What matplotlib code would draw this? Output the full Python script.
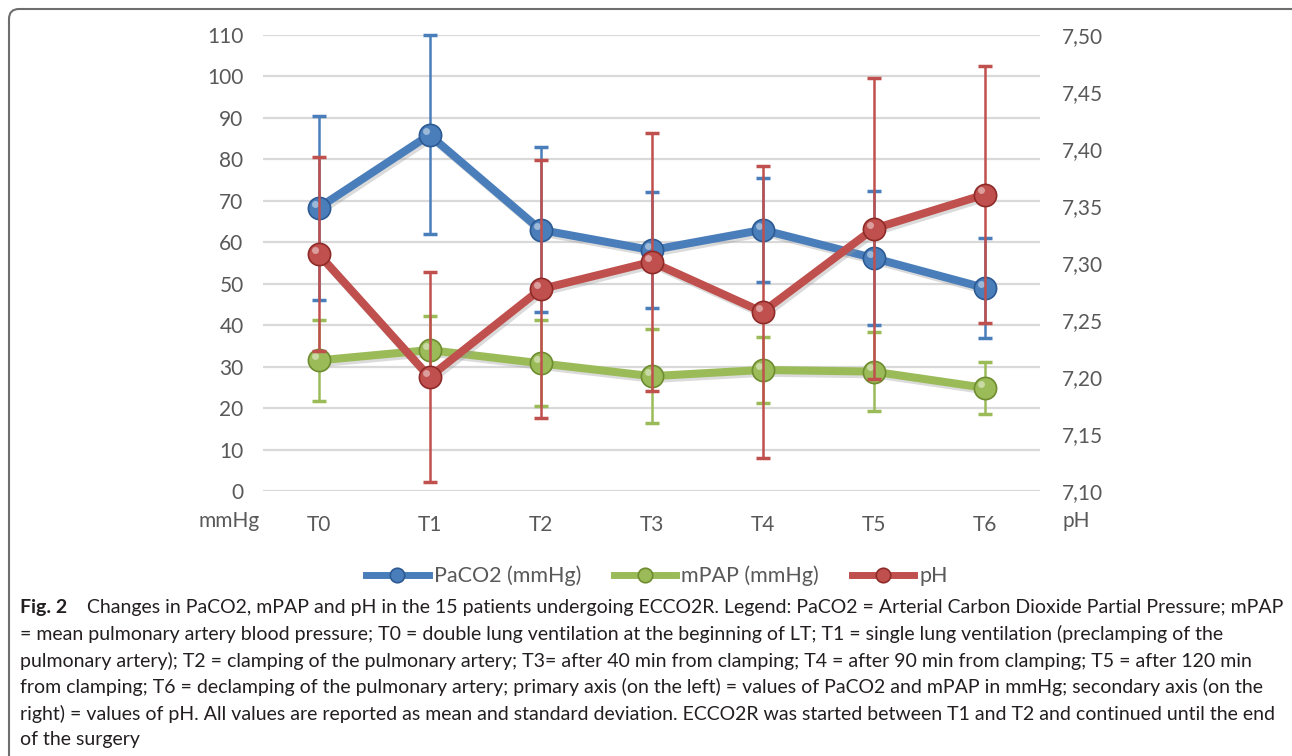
# ____________________________________________________________
# import modules

import numpy as np
import matplotlib
matplotlib.use("Agg")
import matplotlib.pyplot as plt
import matplotlib.patheffects as pe
from matplotlib.patches import FancyBboxPatch
from matplotlib.transforms import IdentityTransform, ScaledTranslation


# ____________________________________________________________
# data

times = ["T0", "T1", "T2", "T3", "T4", "T5", "T6"]
paco2 = [68.3, 85.9, 63.0, 58.1, 63.0, 56.2, 49.0]
paco2_sd = [22.2, 24.0, 19.9, 14.0, 12.6, 16.2, 12.0]
mpap = [31.5, 34.0, 30.8, 27.7, 29.2, 28.8, 24.9]
mpap_sd = [9.7, 8.1, 10.4, 11.3, 8.0, 9.6, 6.3]
ph = [7.308, 7.200, 7.277, 7.301, 7.257, 7.330, 7.360]
ph_sd = [0.085, 0.092, 0.113, 0.113, 0.128, 0.132, 0.113]

left_ticks = list(range(0, 111, 10))
right_ticks = [7.10, 7.15, 7.20, 7.25, 7.30, 7.35, 7.40, 7.45, 7.50]

caption_lines = [
    "= mean pulmonary artery blood pressure; T0 = double lung ventilation at the beginning of LT; T1 = single lung ventilation (preclamping of the",
    "pulmonary artery); T2 = clamping of the pulmonary artery; T3= after 40 min from clamping; T4 = after 90 min from clamping; T5 = after 120 min",
    "from clamping; T6 = declamping of the pulmonary artery; primary axis (on the left) = values of PaCO2 and mPAP in mmHg; secondary axis (on the",
    "right) = values of pH. All values are reported as mean and standard deviation. ECCO2R was started between T1 and T2 and continued until the end",
    "of the surgery",
]
caption_first = ("Changes in PaCO2, mPAP and pH in the 15 patients undergoing ECCO2R. Legend: PaCO2 = Arterial "
                 "Carbon Dioxide Partial Pressure; mPAP")

# ____________________________________________________________
# style

blue, green, red = "#4A7EBB", "#9BBB59", "#C0504D"
dblue, dgreen, dred = "#2C5A93", "#6E8C30", "#8E2B28"
grey = "#595959"
chart_font = ["Lato", "DejaVu Sans"]
cap_font = ["Lato", "DejaVu Sans"]
cap_size = 14

W, H = 1292, 756
fig = plt.figure(figsize=(W / 100, H / 100), dpi=100)
fig.patch.set_facecolor("white")

ax = fig.add_axes([263 / W, 1 - 491 / H, 777 / W, 456 / H])
ax2 = ax.twinx()
x = np.arange(len(times))


def draw_series(a, y, sd, col, dcol, z):
    shadow = [pe.SimpleLineShadow(offset=(1.5, -2), shadow_color="#999999", alpha=0.35), pe.Normal()]
    a.errorbar(x, y, yerr=sd, fmt="none", ecolor=col, elinewidth=1.8, capsize=5,
               capthick=2.5, zorder=z, clip_on=False)
    a.plot(x, y, "-", color=col, lw=5.8, solid_capstyle="round", zorder=z + 1,
           path_effects=shadow, clip_on=False)
    ln, = a.plot(x, y, "o", color=col, ms=16, mec=dcol, mew=1.2, zorder=z + 2, clip_on=False)
    # small highlight on the spheres
    hl = a.transData + ScaledTranslation(-2.5 / 72, 3 / 72, fig.dpi_scale_trans)
    a.plot(x, y, "o", color="white", alpha=0.45, ms=5, mew=0, zorder=z + 3,
           transform=hl, clip_on=False)
    return ln


l_blue = draw_series(ax, paco2, paco2_sd, blue, dblue, 3)
l_green = draw_series(ax, mpap, mpap_sd, green, dgreen, 6)
l_red = draw_series(ax2, ph, ph_sd, red, dred, 3)

ax.set_xlim(-0.5, 6.5)
ax.set_ylim(0, 110)
ax2.set_ylim(7.10, 7.50)
ax.set_yticks(left_ticks)
ax2.set_yticks(right_ticks)
ax2.set_yticklabels([f"{v:.2f}".replace(".", ",") for v in right_ticks])
ax.set_xticks(x)
ax.set_xticklabels(times)
ax.grid(axis="y", color="#D9D9D9", lw=1.6)
ax.set_axisbelow(True)
for a in (ax, ax2):
    for s in a.spines.values():
        s.set_visible(False)
    a.tick_params(length=0, labelsize=15, labelcolor=grey)
    for t in a.get_xticklabels() + a.get_yticklabels():
        t.set_fontfamily(chart_font)
ax.tick_params(axis="y", pad=14)
ax2.tick_params(axis="y", pad=16)
ax.tick_params(axis="x", pad=17)

fig.text(229 / W, 1 - 521 / H, "mmHg", ha="center", va="center", fontsize=15, color=grey, family=chart_font)
fig.text(1063 / W, 1 - 521 / H, "pH", ha="left", va="center", fontsize=15, color=grey, family=chart_font)

# legend
leg = fig.legend([l_blue, l_green, l_red], ["PaCO2 (mmHg)", "mPAP (mmHg)", "pH"],
                 loc="center", bbox_to_anchor=(657 / W, 1 - 576 / H), ncol=3, frameon=False,
                 handlelength=2.9, handletextpad=0.25, columnspacing=1.5,
                 prop={"family": chart_font, "size": 15.5}, markerscale=0.65)
for t in leg.get_texts():
    t.set_color(grey)
for h, c in zip(leg.legend_handles, (blue, green, red)):
    h.set_linestyle("-")
    h.set_linewidth(5)
    h.set_color(c)

# caption
ink = "#231F20"
y0 = 608
fig.text(20 / W, 1 - y0 / H, "Fig. 2", fontsize=cap_size, fontweight="bold", color=ink,
         va="center", family=cap_font)
fig.text(87 / W, 1 - y0 / H, caption_first, fontsize=cap_size, color=ink, va="center", family=cap_font)
for i, line in enumerate(caption_lines):
    fig.text(20 / W, 1 - (y0 + 26.4 * (i + 1)) / H, line, fontsize=cap_size, color=ink,
             va="center", family=cap_font)

# frame of the figure
frame = FancyBboxPatch((9, -30), 1320, H - 9 + 30, boxstyle="round,pad=0,rounding_size=10",
                       transform=IdentityTransform(), fill=False, ec="#6E6E6E", lw=1.5)
fig.add_artist(frame)

fig.savefig("out.png", dpi=100)
